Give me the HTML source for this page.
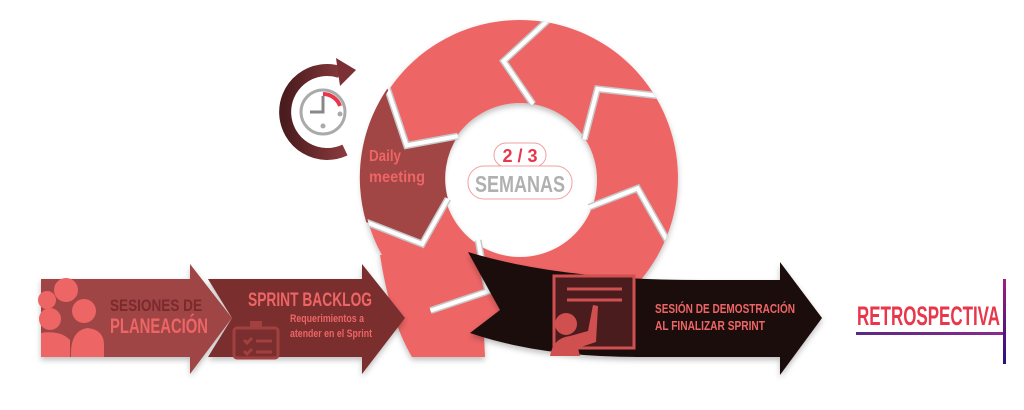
<!DOCTYPE html>
<html><head><meta charset="utf-8"><style>
html,body{margin:0;padding:0;background:#fff;width:1024px;height:410px;overflow:hidden}
svg text{font-family:"Liberation Sans",sans-serif;font-weight:bold}
</style></head><body>
<svg width="1024" height="410" viewBox="0 0 1024 410" xmlns="http://www.w3.org/2000/svg">
<defs>
<linearGradient id="cg" x1="0" y1="0" x2="1" y2="0"><stop offset="0" stop-color="#4a1c1e"/><stop offset="1" stop-color="#8a3a3c"/></linearGradient>
<linearGradient id="rg" x1="0" y1="0" x2="0" y2="1"><stop offset="0" stop-color="#a0207a"/><stop offset="1" stop-color="#2a1080"/></linearGradient>
<linearGradient id="ug" x1="0" y1="0" x2="1" y2="0"><stop offset="0" stop-color="#5a2a80"/><stop offset="1" stop-color="#8a2a90"/></linearGradient>
<filter id="sh" x="-10%" y="-10%" width="120%" height="130%"><feDropShadow dx="0" dy="3" stdDeviation="3" flood-color="#000" flood-opacity="0.25"/></filter>
<clipPath id="rc"><path d="M520,20 A158,158 0 1,1 519.9,20 Z M380,255 L480,250 L485,357 L412,357 Q390,320 380,255 Z"/></clipPath>
</defs>
<g filter="url(#sh)">
<path d="M520,20 A158,158 0 1,1 519.9,20 Z M520,103 A77,77 0 1,0 520.1,103 Z" fill="#ee6565" fill-rule="evenodd"/>
<path d="M380,255 L480,250 L485,357 L412,357 Q390,320 380,255 Z" fill="#ee6565"/>
</g>
<path d="M387.4,88.5 L406.6,145.5 L457.8,136.1 A77,77 0 0,0 447.9,198.7 L422.2,244 L366.2,222.1 A158,158 0 0,1 387.4,88.5 Z" fill="#a14545"/>
<g fill="none" stroke-linejoin="miter" clip-path="url(#rc)">
<g stroke="#c8c8c8" stroke-width="7">
<polyline points="533,104.1 503.6,61.1 547.8,20.4"/>
<polyline points="584.3,139.4 597.4,88.9 657.2,95.6"/>
<polyline points="589,207.3 637.6,188.3 667.3,240.5"/>
<polyline points="478.1,240.2 487.5,291.4 430.5,310.6"/>
<polyline points="447.9,198.7 422.2,244 366.2,222.1"/>
<polyline points="457.8,136.1 406.6,145.5 387.4,88.5"/>
</g>
<g stroke="#fff" stroke-width="4">
<polyline points="533,104.1 503.6,61.1 547.8,20.4"/>
<polyline points="584.3,139.4 597.4,88.9 657.2,95.6"/>
<polyline points="589,207.3 637.6,188.3 667.3,240.5"/>
<polyline points="478.1,240.2 487.5,291.4 430.5,310.6"/>
<polyline points="447.9,198.7 422.2,244 366.2,222.1"/>
<polyline points="457.8,136.1 406.6,145.5 387.4,88.5"/>
</g>
</g>
<g filter="url(#sh)">
<path d="M41,279 L190,279 L190,264 L232,318 L190,374 L190,357 L41,357 Z" fill="#a04444"/>
<path d="M208,279 L362,279 L362,264 L405,318 L362,374 L362,357 L208,357 L232,318 Z" fill="#7a2e2f"/>
</g>
<g fill="#ee6565">
<circle cx="66" cy="290" r="12"/><circle cx="47" cy="300" r="9"/><circle cx="84" cy="311" r="12"/><circle cx="50" cy="319" r="11"/>
<path d="M71,357 Q70,330 88,328 Q104,330 104,345 L104,357 Z"/><path d="M41,357 L41,333 Q60,330 70,340 L70,357 Z"/>
</g>
<text x="110" y="311" font-size="17" fill="#7a2a2c" textLength="92" lengthAdjust="spacingAndGlyphs">SESIONES DE</text>
<text x="110" y="333" font-size="21" fill="#ee6565" textLength="98" lengthAdjust="spacingAndGlyphs">PLANEACIÓN</text>
<text x="248" y="306" font-size="19" fill="#ee6565" textLength="124" lengthAdjust="spacingAndGlyphs">SPRINT BACKLOG</text>
<text x="290" y="322" font-size="11" fill="#ee6565" textLength="74" lengthAdjust="spacingAndGlyphs">Requerimientos a</text>
<text x="290" y="337" font-size="11" fill="#ee6565" textLength="82" lengthAdjust="spacingAndGlyphs">atender en el Sprint</text>
<g fill="none" stroke="#a04040" stroke-width="3"><rect x="234" y="328" width="44" height="30" rx="3"/><path d="M244,340 l3,3 l5,-5 M244,351 l3,3 l5,-5 M256,341 h16 M256,352 h16"/></g>
<rect x="250" y="321" width="12" height="7" fill="#a04040"/>
<g filter="url(#sh)">
<path d="M468,252 Q560,280 700,280 L780,280 L780,262 L822,318 L780,375 L780,357 L640,357 Q540,357 470,333 L500,310 Z" fill="#1e0d0e"/>
</g>
<g>
<rect x="554" y="276" width="80" height="72" fill="#4a1c1e" stroke="#d05050" stroke-width="3"/>
<path d="M567,289 h55 M567,300 h55" stroke="#d05050" stroke-width="3"/>
<circle cx="566" cy="324" r="11" fill="#d05050"/>
<path d="M550,356 Q553,338 570,336 L588,331 L593,305 L598,306 L596,342 L578,348 L580,356 Z" fill="#d05050"/>
</g>
<text x="655" y="313" font-size="13" fill="#ee6565" textLength="140" lengthAdjust="spacingAndGlyphs">SESIÓN DE DEMOSTRACIÓN</text>
<text x="655" y="330" font-size="13" fill="#ee6565" textLength="110" lengthAdjust="spacingAndGlyphs">AL FINALIZAR SPRINT</text>
<text x="857" y="325" font-size="27" fill="#e8364a" textLength="143" lengthAdjust="spacingAndGlyphs">RETROSPECTIVA</text>
<rect x="856" y="332" width="150" height="3" fill="url(#ug)"/>
<rect x="1003" y="279" width="3" height="85" fill="url(#rg)"/>
<rect x="494" y="143" width="52" height="24" rx="12" fill="#fff" stroke="#f0a0a0"/>
<text x="520" y="162" font-size="18" fill="#e8364a" text-anchor="middle">2 / 3</text>
<rect x="468" y="166" width="104" height="33" rx="16" fill="#fff" stroke="#f0a0a0"/>
<text x="520" y="192" font-size="23" fill="#b0b0b0" text-anchor="middle" textLength="90" lengthAdjust="spacingAndGlyphs">SEMANAS</text>
<text x="369" y="161" font-size="16" fill="#ee6565" textLength="32" lengthAdjust="spacingAndGlyphs">Daily</text>
<text x="369" y="182" font-size="16" fill="#ee6565" textLength="56" lengthAdjust="spacingAndGlyphs">meeting</text>
<path d="M345,150 A42,42 0 1,1 340,72" fill="none" stroke="url(#cg)" stroke-width="12"/>
<path d="M336,58 L356,70 L340,86 Z" fill="#7a3034"/>
<circle cx="323" cy="112" r="22" fill="#fff" stroke="#aaa" stroke-width="3"/>
<path d="M323,94 A18,18 0 0,1 340,106" fill="none" stroke="#e8364a" stroke-width="4"/>
<path d="M323,96 V112 H310" fill="none" stroke="#888" stroke-width="3"/>
<circle cx="323" cy="126" r="2.5" fill="#aaa"/><circle cx="340" cy="114" r="2.5" fill="#aaa"/>
</svg>
</body></html>
